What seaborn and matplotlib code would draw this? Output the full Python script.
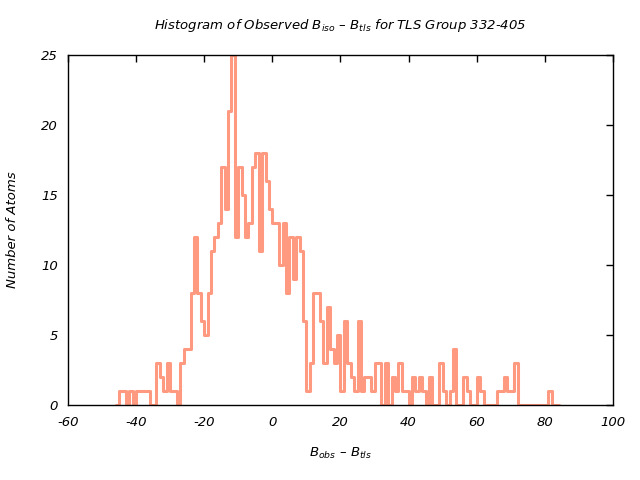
import numpy as np
import pandas as pd
import matplotlib
matplotlib.use("Agg")
import matplotlib.pyplot as plt
import seaborn as sns

# Histogram bins (left edges, width 1) and counts
bin_left = list(range(-46, 84))
counts = [0,
    1, 1, 0, 1, 0, 1, 1, 1, 1, 0,      # -45 .. -36
    0, 3, 2, 1, 3, 1, 1, 0, 3, 4,      # -35 .. -26
    4, 8, 12, 8, 6, 5, 8, 11, 12, 13,  # -25 .. -16
    17, 14, 21, 25, 12, 17, 15, 12, 13, 17,  # -15 .. -6
    18, 11, 18, 16, 14, 13, 13, 10, 13, 8,   # -5 .. 4
    12, 9, 12, 11, 6, 1, 3, 8, 8, 6,   # 5 .. 14
    3, 7, 4, 3, 5, 1, 6, 3, 2, 1,      # 15 .. 24
    6, 1, 2, 2, 1, 3, 3, 0, 3, 0,      # 25 .. 34
    2, 1, 3, 1, 1, 0, 2, 1, 2, 1,      # 35 .. 44
    0, 2, 0, 0, 3, 1, 0, 1, 4, 0,      # 45 .. 54
    0, 2, 1, 0, 0, 2, 1, 0, 0, 0,      # 55 .. 64
    0, 1, 1, 2, 1, 1, 3, 0, 0, 0,      # 65 .. 74
    0, 0, 0, 0, 0, 0, 1, 0, 0]         # 75 .. 83

xticks = [-60, -40, -20, 0, 20, 40, 60, 80, 100]
yticks = [0, 5, 10, 15, 20, 25]

title = r"Histogram of Observed B$_{iso}$ – B$_{tls}$ for TLS Group 332-405"
xlabel = r"B$_{obs}$ – B$_{tls}$"
ylabel = "Number of Atoms"

sns.set_style("white")
plt.rcParams['font.family'] = ['DejaVu Sans']
plt.rcParams['mathtext.fontset'] = 'custom'
plt.rcParams['mathtext.it'] = 'DejaVu Sans:italic'
plt.rcParams['mathtext.rm'] = 'DejaVu Sans:italic'
plt.rcParams['mathtext.default'] = 'it'
plt.rcParams['text.color'] = 'black'
plt.rcParams['axes.labelcolor'] = 'black'
plt.rcParams['xtick.color'] = 'black'
plt.rcParams['ytick.color'] = 'black'

df = pd.DataFrame({"x": np.array(bin_left) + 0.5, "w": counts})
edges = list(range(-46, 85))

fig = plt.figure(figsize=(6.4, 4.8), dpi=100)
ax = fig.add_axes([0.106, 0.156, 0.852, 0.729])
sns.histplot(data=df, x="x", weights="w", bins=edges, element="step",
             fill=False, color="#ff9a80", linewidth=2.2, ax=ax)

ax.set_xlim(-60, 100)
ax.set_ylim(0, 25)
ax.set_xticks(xticks)
ax.set_yticks(yticks)
ax.set_xticklabels([str(t) for t in xticks], fontstyle='italic', fontsize=9.5)
ax.set_yticklabels([str(t) for t in yticks], fontstyle='italic', fontsize=9.5)
ax.tick_params(axis='x', direction='in', top=True, length=5, width=1, pad=8)
ax.tick_params(axis='y', direction='in', right=True, length=5, width=1, pad=7)
for s in ax.spines.values():
    s.set_visible(True)
    s.set_color('black')
    s.set_linewidth(1)
ax.set_title(title, fontstyle='italic', fontsize=9.5, pad=19)
ax.set_xlabel(xlabel, fontstyle='italic', fontsize=9.5, labelpad=12)
ax.set_ylabel(ylabel, fontstyle='italic', fontsize=9.5, labelpad=16)

fig.savefig("out.png", dpi=100)
